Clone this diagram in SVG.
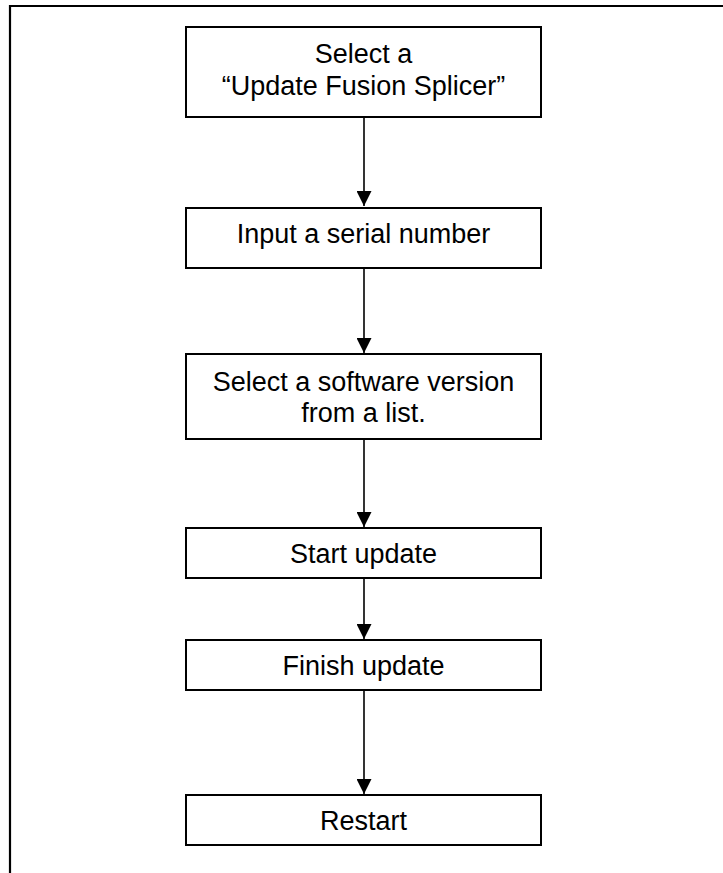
<svg xmlns="http://www.w3.org/2000/svg" width="723" height="873" viewBox="0 0 723 873">
<style>
.box{fill:#fff;stroke:#000;stroke-width:2}
.t{font-family:"Liberation Sans",Arial,sans-serif;font-size:27px;fill:#000;text-anchor:middle}
.c{stroke:#000;stroke-width:1.6;fill:none}
.frame{stroke:#000;stroke-width:2.2;fill:none}
</style>
<defs>
<marker id="ah" markerUnits="userSpaceOnUse" markerWidth="15" markerHeight="15" refX="15" refY="7.5" orient="auto">
<path d="M0,0 L15,7.5 L0,15 Z" fill="#000"/>
</marker>
</defs>
<rect width="723" height="873" fill="#fff"/>
<path class="frame" d="M10,873 L10,6 L723,6"/>
<g id="connectors">
<line class="c" x1="364" y1="118" x2="364" y2="206" marker-end="url(#ah)"/>
<line class="c" x1="364" y1="269" x2="364" y2="353" marker-end="url(#ah)"/>
<line class="c" x1="364" y1="440" x2="364" y2="527" marker-end="url(#ah)"/>
<line class="c" x1="364" y1="579" x2="364" y2="639" marker-end="url(#ah)"/>
<line class="c" x1="364" y1="691" x2="364" y2="794" marker-end="url(#ah)"/>
</g>
<g id="n1">
<rect class="box" x="186" y="27" width="355" height="90"/>
<text class="t" x="363.5" y="63">Select a</text>
<text class="t" x="363.5" y="95">“Update Fusion Splicer”</text>
</g>
<g id="n2">
<rect class="box" x="186" y="208" width="355" height="60"/>
<text class="t" x="363.5" y="243">Input a serial number</text>
</g>
<g id="n3">
<rect class="box" x="186" y="354" width="355" height="85"/>
<text class="t" x="363.5" y="391">Select a software version</text>
<text class="t" x="363.5" y="422">from a list.</text>
</g>
<g id="n4">
<rect class="box" x="186" y="528" width="355" height="50"/>
<text class="t" x="363.5" y="563">Start update</text>
</g>
<g id="n5">
<rect class="box" x="186" y="640" width="355" height="50"/>
<text class="t" x="363.5" y="675">Finish update</text>
</g>
<g id="n6">
<rect class="box" x="186" y="795" width="355" height="50"/>
<text class="t" x="363.5" y="830">Restart</text>
</g>
</svg>
